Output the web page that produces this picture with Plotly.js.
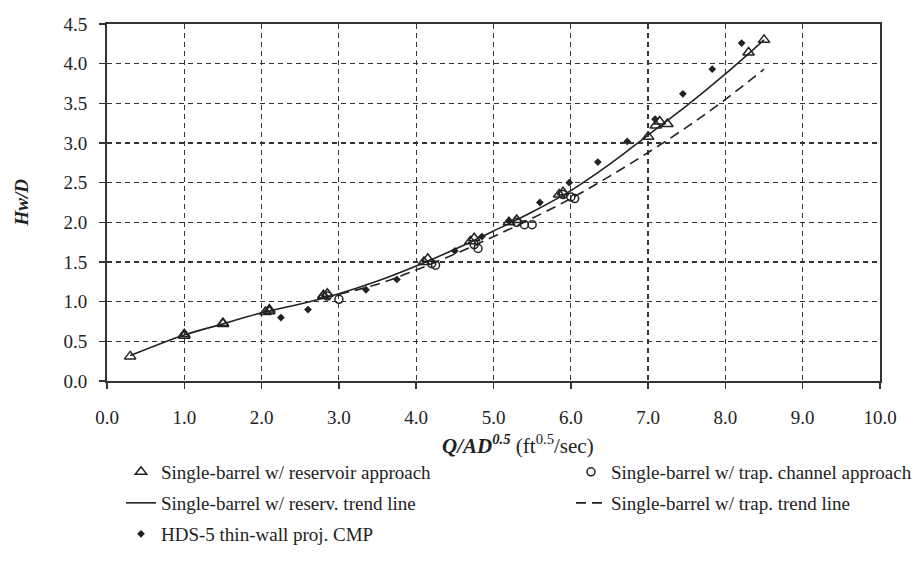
<!DOCTYPE html>
<html>
<head>
<meta charset="utf-8">
<script src="https://cdn.plot.ly/plotly-3.0.1.min.js"></script>
<style>html,body{margin:0;padding:0;background:#fff;}#chart{width:924px;height:577px;}</style>
</head>
<body>
<div id="chart"></div>
<script>
// Single-barrel w/ reservoir approach (triangles)
const resX = [0.3, 1.0, 1.0, 1.5, 1.5, 2.05, 2.1, 2.1, 2.8, 2.85, 2.8, 4.1, 4.15, 4.7, 4.75, 5.2, 5.3, 5.85, 5.9, 7.0, 7.1, 7.15, 7.25, 8.3, 8.5];
const resY = [0.31, 0.57, 0.59, 0.72, 0.73, 0.87, 0.9, 0.88, 1.07, 1.1, 1.08, 1.5, 1.54, 1.76, 1.8, 2.0, 2.03, 2.35, 2.38, 3.08, 3.22, 3.27, 3.24, 4.14, 4.3];
// Single-barrel w/ trap. channel approach (circles)
const trapX = [2.85, 3.0, 4.2, 4.25, 4.75, 4.8, 5.3, 5.4, 5.5, 5.9, 6.0, 6.05];
const trapY = [1.07, 1.03, 1.48, 1.46, 1.72, 1.67, 2.0, 1.97, 1.97, 2.35, 2.32, 2.3];
// HDS-5 thin-wall proj. CMP (small filled diamonds)
const hdsX = [2.25, 2.6, 3.35, 3.75, 4.5, 4.85, 5.2, 5.6, 5.98, 6.35, 6.73, 7.09, 7.45, 7.83, 8.21];
const hdsY = [0.8, 0.9, 1.15, 1.28, 1.64, 1.82, 2.02, 2.25, 2.5, 2.76, 3.02, 3.3, 3.62, 3.93, 4.26];
// Reservoir trend line
const resTrendX = [0.3, 1.0, 1.5, 2.0, 2.5, 3.0, 3.5, 4.0, 4.5, 5.0, 5.5, 6.0, 6.5, 7.0, 7.5, 8.0, 8.5];
const resTrendY = [0.32, 0.58, 0.72, 0.86, 0.97, 1.1, 1.26, 1.45, 1.66, 1.89, 2.13, 2.4, 2.73, 3.1, 3.47, 3.87, 4.3];
// Trap. trend line
const trapTrendX = [2.8, 3.5, 4.0, 4.5, 5.0, 5.5, 6.0, 6.5, 7.0, 7.5, 8.0, 8.5];
const trapTrendY = [1.05, 1.22, 1.4, 1.6, 1.82, 2.05, 2.3, 2.58, 2.88, 3.2, 3.55, 3.93];

const xTicks = [0, 1, 2, 3, 4, 5, 6, 7, 8, 9, 10];
const xTickText = ["0.0", "1.0", "2.0", "3.0", "4.0", "5.0", "6.0", "7.0", "8.0", "9.0", "10.0"];
const yTicks = [0, 0.5, 1, 1.5, 2, 2.5, 3, 3.5, 4, 4.5];
const yTickText = ["0.0", "0.5", "1.0", "1.5", "2.0", "2.5", "3.0", "3.5", "4.0", "4.5"];

const FONT = "'Liberation Serif', 'Times New Roman', 'DejaVu Serif', serif";
const INK = "#222";

const traces = [
  {x: resTrendX, y: resTrendY, mode: "lines", line: {color: INK, width: 1.6, shape: "spline"},
   name: "Single-barrel w/ reserv. trend line", legend: "legend3"},
  {x: trapTrendX, y: trapTrendY, mode: "lines", line: {color: INK, width: 1.6, dash: "10px,6px", shape: "spline"},
   name: "Single-barrel w/ trap. trend line", legend: "legend4"},
  {x: resX, y: resY, mode: "markers", marker: {symbol: "triangle-up-open", size: 10, color: INK, line: {width: 1.5, color: INK}},
   name: "Single-barrel w/ reservoir approach", legend: "legend"},
  {x: trapX, y: trapY, mode: "markers", marker: {symbol: "circle-open", size: 8, color: INK, line: {width: 1.5, color: INK}},
   name: "Single-barrel w/ trap. channel approach", legend: "legend2"},
  {x: hdsX, y: hdsY, mode: "markers", marker: {symbol: "diamond", size: 6, color: INK},
   name: "HDS-5 thin-wall proj. CMP", legend: "legend5"}
];

function leg(xpx, ypx) {
  return {orientation: "h", xref: "container", yref: "container", x: xpx / 924, y: 1 - ypx / 577,
    xanchor: "left", yanchor: "middle", font: {family: FONT, size: 19, color: INK},
    bgcolor: "rgba(0,0,0,0)", itemwidth: 30};
}

const axisBase = {showgrid: true, gridcolor: "#333", griddash: "5px,4px", gridwidth: 1.2,
  zeroline: false, showline: true, linecolor: "#333", linewidth: 2, mirror: true,
  ticks: "outside", ticklen: 6, tickcolor: "#333", tickwidth: 1.5,
  tickfont: {family: FONT, size: 19, color: INK}};

const layout = {
  width: 924, height: 577,
  margin: {l: 107, r: 44, t: 24, b: 196},
  paper_bgcolor: "#fff", plot_bgcolor: "#fff",
  font: {family: FONT, size: 19, color: INK},
  showlegend: true,
  xaxis: Object.assign({}, axisBase, {range: [0, 10], tickvals: xTicks, ticktext: xTickText, ticklabelstandoff: 12}),
  yaxis: Object.assign({}, axisBase, {range: [0, 4.5], tickvals: yTicks, ticktext: yTickText, ticklabelstandoff: 8}),
  legend: leg(121, 472),
  legend2: leg(571, 472),
  legend3: leg(121, 503),
  legend4: leg(571, 503),
  legend5: leg(121, 534),
  annotations: [
    {xref: "paper", yref: "paper", x: 0.532, y: -0.177, xanchor: "center", yanchor: "middle", showarrow: false,
     text: "<b><i>Q/AD<sup>0.5</sup></i></b> (ft<sup>0.5</sup>/sec)", font: {family: FONT, size: 21, color: INK}},
    {xref: "paper", yref: "paper", x: -0.110, y: 0.5, xanchor: "center", yanchor: "middle", showarrow: false, textangle: -90,
     text: "<b><i>Hw/D</i></b>", font: {family: FONT, size: 19, color: INK}}
  ]
};

Plotly.newPlot("chart", traces, layout, {displayModeBar: false, staticPlot: true});
</script>
</body>
</html>
